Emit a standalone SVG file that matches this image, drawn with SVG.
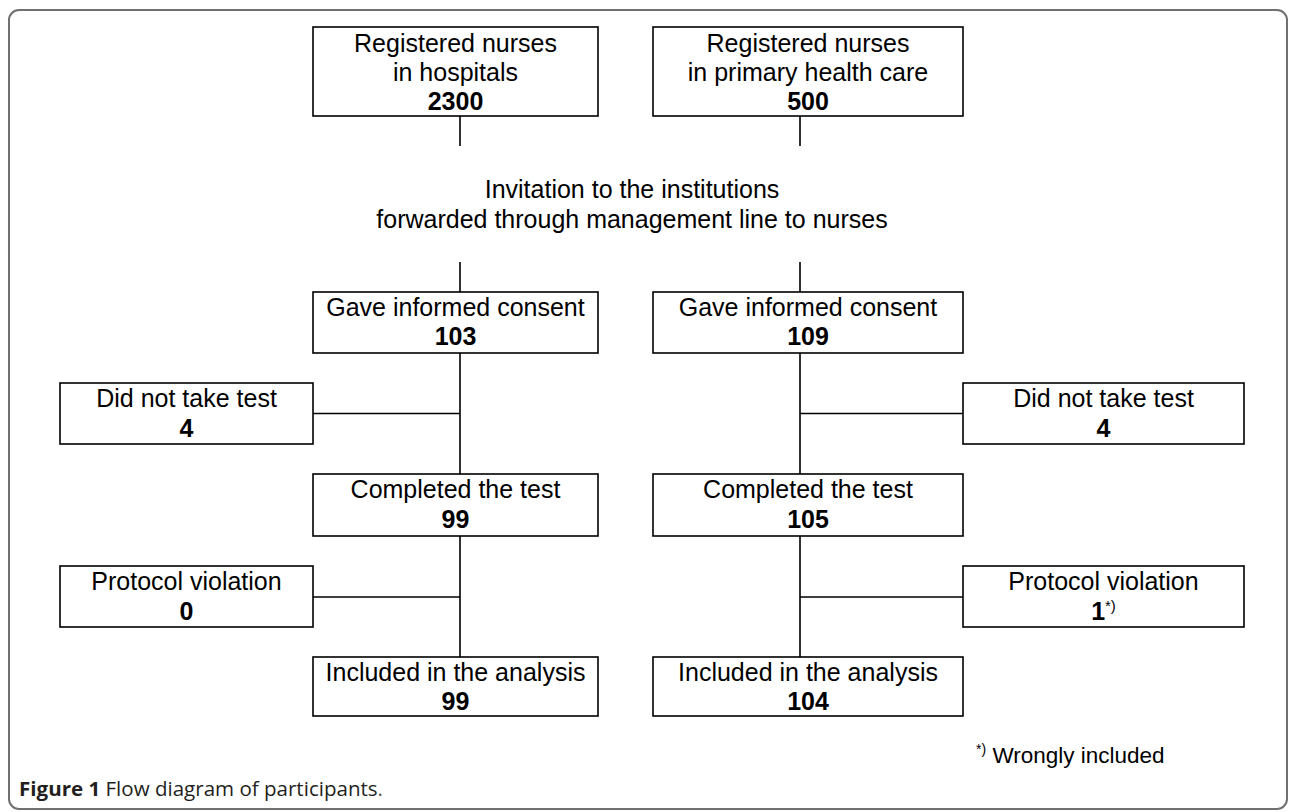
<svg xmlns="http://www.w3.org/2000/svg" width="1290" height="812" viewBox="0 0 1290 812">
<style>
.box{fill:#fff;stroke:#000;stroke-width:1.6}
.t{font-family:"Liberation Sans",Arial,sans-serif;font-size:25px;fill:#000;text-anchor:middle}
.b{font-weight:bold}
.c{stroke:#000;stroke-width:1.6;fill:none}
.sup{font-size:15px}
</style>
<rect x="9" y="10" width="1278" height="799" rx="10" fill="#fff" stroke="#707070" stroke-width="2"/>
<g id="connectors">
<path class="c" d="M460,116V146M800,116V146M460,262V292M800,262V292M460,353V474M800,353V474M460,536V657M800,536V657M313,413.5H460M800,413.5H963M313,597H460M800,597H963"/>
</g>
<g id="n-hosp">
<rect class="box" x="313" y="27" width="285" height="89"/>
<text class="t" x="455.5" y="52">Registered nurses</text>
<text class="t" x="455.5" y="81">in hospitals</text>
<text class="t b" x="455.5" y="110">2300</text>
</g>
<g id="n-phc">
<rect class="box" x="653" y="27" width="310" height="89"/>
<text class="t" x="808" y="52">Registered nurses</text>
<text class="t" x="808" y="81">in primary health care</text>
<text class="t b" x="808" y="110">500</text>
</g>
<g id="n-invite">
<text class="t" x="632" y="198">Invitation to the institutions</text>
<text class="t" x="632" y="228">forwarded through management line to nurses</text>
</g>
<g id="n-consent-l">
<rect class="box" x="313" y="292" width="285" height="61"/>
<text class="t" x="455.5" y="316">Gave informed consent</text>
<text class="t b" x="455.5" y="345">103</text>
</g>
<g id="n-consent-r">
<rect class="box" x="653" y="292" width="310" height="61"/>
<text class="t" x="808" y="316">Gave informed consent</text>
<text class="t b" x="808" y="345">109</text>
</g>
<g id="n-notest-l">
<rect class="box" x="60" y="383" width="253" height="61"/>
<text class="t" x="186.5" y="407">Did not take test</text>
<text class="t b" x="186.5" y="437">4</text>
</g>
<g id="n-notest-r">
<rect class="box" x="963" y="383" width="281" height="61"/>
<text class="t" x="1103.5" y="407">Did not take test</text>
<text class="t b" x="1103.5" y="437">4</text>
</g>
<g id="n-completed-l">
<rect class="box" x="313" y="474" width="285" height="62"/>
<text class="t" x="455.5" y="498">Completed the test</text>
<text class="t b" x="455.5" y="528">99</text>
</g>
<g id="n-completed-r">
<rect class="box" x="653" y="474" width="310" height="62"/>
<text class="t" x="808" y="498">Completed the test</text>
<text class="t b" x="808" y="528">105</text>
</g>
<g id="n-protocol-l">
<rect class="box" x="60" y="566" width="253" height="61"/>
<text class="t" x="186.5" y="590">Protocol violation</text>
<text class="t b" x="186.5" y="620">0</text>
</g>
<g id="n-protocol-r">
<rect class="box" x="963" y="566" width="281" height="61"/>
<text class="t" x="1103.5" y="590">Protocol violation</text>
<text class="t" x="1103.5" y="620"><tspan class="b">1</tspan><tspan class="sup" dy="-9">*)</tspan></text>
</g>
<g id="n-included-l">
<rect class="box" x="313" y="657" width="285" height="59"/>
<text class="t" x="455.5" y="681">Included in the analysis</text>
<text class="t b" x="455.5" y="710">99</text>
</g>
<g id="n-included-r">
<rect class="box" x="653" y="657" width="310" height="59"/>
<text class="t" x="808" y="681">Included in the analysis</text>
<text class="t b" x="808" y="710">104</text>
</g>
<g id="footnote">
<text font-family="Liberation Sans, Arial, sans-serif" font-size="22.5" fill="#000" x="976" y="763"><tspan font-size="14" dy="-9">*)</tspan><tspan dy="9"> Wrongly included</tspan></text>
</g>
<g id="caption">
<text font-family="'Open Sans', 'Noto Sans', sans-serif" font-size="19.5" fill="#231f20" x="19" y="796" textLength="364" lengthAdjust="spacingAndGlyphs"><tspan font-weight="bold">Figure 1</tspan> Flow diagram of participants<tspan fill="#555">.</tspan></text>
</g>
</svg>
